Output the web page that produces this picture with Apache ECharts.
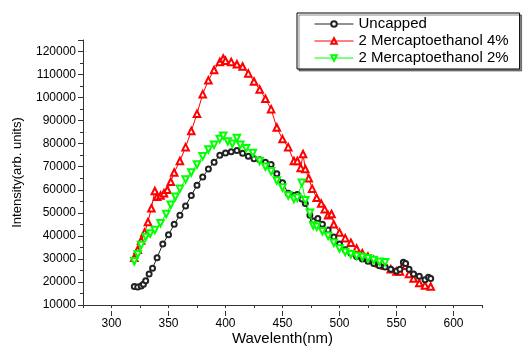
<!DOCTYPE html>
<html>
<head>
<meta charset="utf-8">
<script src="https://cdn.jsdelivr.net/npm/echarts@6/dist/echarts.min.js"></script>
<style>html,body{margin:0;padding:0;background:#fff}#c{width:526px;height:351px}</style>
</head>
<body>
<div id="c"></div>
<script>
const seriesNames = ['Uncapped', '2 Mercaptoethanol 4%', '2 Mercaptoethanol 2%'];

const uncappedX = [320,323,326,328,330,333,336,340,345,350,355,360,365,370,375,380,385,390,395,400,405,410,415,420,425,430,435,440,445,450,455,460,463,467,470,474,477,481,485,490,495,500,505,510,515,520,525,530,535,540,545,550,553,556,558,561,565,570,575,578,580];
const uncappedY = [18000,17800,18200,19000,20500,23500,26000,30500,36500,40500,45000,49000,53000,57500,62000,65500,69000,72000,75000,76000,76500,77000,75800,74500,73500,73000,72000,71000,67000,63000,58500,57500,58000,56000,54000,49000,46500,47500,45000,42500,39500,36500,34000,32500,31000,30000,29000,28000,27000,26500,25500,24800,25500,28500,28000,25500,23500,22500,21000,22000,21500];

const merc4X = [320,323,326,329,332,335,338,340,343,346,349,352,355,360,365,370,375,380,385,390,395,398,400,405,410,415,420,425,430,435,440,445,450,455,460,463,466,468,470,473,476,480,484,487,490,493,495,500,505,510,515,520,525,530,535,540,545,550,553,556,558,561,565,570,575,580];
const merc4Y = [30500,34000,38000,41500,46000,52000,59500,57000,57500,58500,60000,63500,67500,72500,78500,85500,93000,101500,107500,112000,115500,117000,116000,115500,114500,113500,110500,107000,103500,99500,95000,87000,82000,78500,72500,72500,69500,75500,69000,65000,60500,56500,54000,51500,49000,49500,45000,41500,39000,37000,34500,32500,31000,29500,28000,27000,25500,24500,24500,27500,27000,23500,21500,19500,18500,18000];

const merc2X = [320,323,326,330,334,338,343,348,352,356,360,365,370,375,380,385,390,395,398,402,406,410,413,418,424,430,435,440,445,450,455,460,463,467,470,474,477,480,485,490,495,500,505,510,515,520,525,530,535,540];
const merc2Y = [29000,32000,36000,39500,41000,42500,45500,49500,53500,57000,60500,64500,67500,71000,74500,77500,79500,82000,83500,81000,80000,82500,79500,78000,76000,72500,70000,68000,64000,61000,57500,56000,56500,63000,55500,50000,44500,44000,42000,40000,37000,34500,33000,32000,31300,30800,30300,29500,28800,28500];

const xTickLabels = [300, 350, 400, 450, 500, 550, 600];

function pairs(xs, ys) { return xs.map((x, i) => [x, ys[i]]); }

const FONT = '"Liberation Sans", Arial, sans-serif';
const chart = echarts.init(document.getElementById('c'), null, {renderer: 'canvas'});

chart.setOption({
  animation: false,
  backgroundColor: '#fff',
  grid: [
    {left: 83, right: 44, top: 40, bottom: 40},
    {left: 111.5, right: 72.5, top: 40, bottom: 40}
  ],
  legend: {
    orient: 'vertical',
    left: 297, top: 13,
    itemWidth: 39, itemHeight: 7, itemGap: 1,
    padding: [3, 11, 3, 17],
    borderColor: '#000', borderWidth: 1,
    shadowColor: 'rgba(0,0,0,0.45)', shadowOffsetX: 2, shadowOffsetY: 2, shadowBlur: 0,
    backgroundColor: '#fff',
    lineStyle: {width: 1},
    textStyle: {fontFamily: FONT, fontSize: 15, color: '#000', lineHeight: 16},
    data: seriesNames
  },
  xAxis: [
    {
      type: 'value', gridIndex: 0, min: 275, max: 625, interval: 25,
      axisLine: {show: true, lineStyle: {color: '#333', width: 1}},
      axisTick: {show: true, length: 3, lineStyle: {color: '#333'}},
      axisLabel: {show: false},
      splitLine: {show: false},
      name: 'Wavelenth(nm)', nameLocation: 'middle', nameGap: 26,
      nameTextStyle: {fontFamily: FONT, fontSize: 15, color: '#000'}
    },
    {
      type: 'value', gridIndex: 1, min: xTickLabels[0], max: xTickLabels[xTickLabels.length - 1], interval: 50,
      axisLine: {show: false},
      axisTick: {show: true, length: 5, lineStyle: {color: '#333'}},
      axisLabel: {show: true, fontFamily: FONT, fontSize: 12, color: '#000', margin: 7},
      splitLine: {show: false}
    }
  ],
  yAxis: [
    {
      type: 'value', gridIndex: 0, min: 10000, max: 125000, interval: 10000,
      axisLine: {show: true, lineStyle: {color: '#333', width: 1}},
      axisTick: {show: true, length: 5, lineStyle: {color: '#333'}},
      minorTick: {show: true, splitNumber: 2, length: 3, lineStyle: {color: '#333'}},
      axisLabel: {fontFamily: FONT, fontSize: 12, color: '#000', margin: 7, showMaxLabel: false,
        formatter: function (v) { return String(v); }},
      splitLine: {show: false},
      name: 'Intensity(arb. units)', nameLocation: 'middle', nameGap: 59,
      nameTextStyle: {fontFamily: FONT, fontSize: 13, color: '#000'}
    },
    {
      type: 'value', gridIndex: 1, min: 0, max: 1, show: false
    }
  ],
  series: [
    {
      name: seriesNames[0], type: 'line', xAxisIndex: 0, yAxisIndex: 0,
      data: pairs(uncappedX, uncappedY),
      symbol: 'emptyCircle', symbolSize: 5,
      lineStyle: {color: '#222', width: 1},
      itemStyle: {color: '#222', borderWidth: 0.8},
      z: 3
    },
    {
      name: seriesNames[1], type: 'line', xAxisIndex: 0, yAxisIndex: 0,
      data: pairs(merc4X, merc4Y),
      symbol: 'emptyTriangle', symbolSize: 6.5,
      lineStyle: {color: '#ff0000', width: 1},
      itemStyle: {color: '#ff0000', borderWidth: 0.8},
      z: 2
    },
    {
      name: seriesNames[2], type: 'line', xAxisIndex: 0, yAxisIndex: 0,
      data: pairs(merc2X, merc2Y),
      symbol: 'emptyTriangle', symbolRotate: 180, symbolSize: 6.5,
      lineStyle: {color: '#00ff00', width: 1},
      itemStyle: {color: '#00ff00', borderWidth: 0.8},
      z: 4
    }
  ]
});
</script>
</body>
</html>
